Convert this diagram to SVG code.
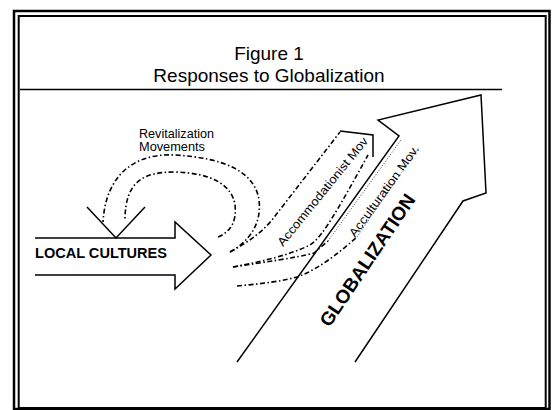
<svg xmlns="http://www.w3.org/2000/svg" width="553" height="410" viewBox="0 0 553 410">
<style>
.t{font-family:"Liberation Sans",Arial,sans-serif;fill:#000}
.b{font-weight:bold}
.ln{fill:none;stroke:#000;stroke-width:1.5;stroke-linejoin:miter}
.dd{fill:none;stroke:#000;stroke-width:1.6;stroke-dasharray:5 2.5 1.5 2.5}
.fd{fill:none;stroke:#000;stroke-width:0.8;stroke-dasharray:1 1.8}
</style>
<rect width="553" height="410" fill="#fff"/>
<g id="frame">
<rect x="14" y="11" width="535.5" height="398" fill="none" stroke="#000" stroke-width="2.5"/>
<rect x="18.7" y="16" width="527" height="392" fill="none" stroke="#000" stroke-width="2"/>
</g>
<g id="title">
<text class="t" x="269" y="60" font-size="19" text-anchor="middle">Figure 1</text>
<text class="t" x="269" y="82" font-size="19" text-anchor="middle">Responses to Globalization</text>
<line x1="20" y1="89.5" x2="502" y2="89.5" stroke="#000" stroke-width="1.5"/>
</g>
<g id="globalization">
<path class="ln" d="M237,362 L399,136 L378,120 L481,95 L486,193 L463,201 L355,362"/>
<text class="t b" font-size="19" transform="translate(329.5,328) rotate(-56)">GLOBALIZATION</text>
</g>
<g id="local-cultures">
<path class="ln" d="M35,238 H175 V222 L211,255 L175,289 V275 H35"/>
<text class="t b" x="35" y="258" font-size="14" textLength="132" lengthAdjust="spacingAndGlyphs">LOCAL CULTURES</text>
<path class="ln" d="M87,207 L116,238 L145,207"/>
</g>
<g id="revitalization-label">
<text class="t" x="139" y="138" font-size="12" textLength="75" lengthAdjust="spacingAndGlyphs">Revitalization</text>
<text class="t" x="139" y="151" font-size="12" textLength="66" lengthAdjust="spacingAndGlyphs">Movements</text>
</g>
<g id="accommodationist">
<text class="t" font-size="12" transform="translate(283,247) rotate(-51)" textLength="136" lengthAdjust="spacingAndGlyphs">Accommodationist Mov</text>
<path class="ln" d="M340,131 L373,135 L373,157"/>
</g>
<g id="acculturation">
<text class="t" font-size="12" transform="translate(355,238) rotate(-54)" textLength="110" lengthAdjust="spacingAndGlyphs">Acculturation Mov.</text>
</g>
<g id="connectors">
<path class="dd" d="M230,252 C248,242 262,225 259,200 C255,172 225,158 175,155 C140,153 106,170 103,222"/>
<path class="dd" d="M218,237 C230,232 237,222 235,205 C232,185 212,173 175,172 C145,172 125,180 125,220"/>
<path class="dd" d="M230,252 C248,242 260,234 272,220 L340,132"/>
<path class="dd" d="M233,267 C260,262 290,255 310,245 C320,238 328,228 368,155"/>
<path class="dd" d="M233,267 C265,262 295,258 314,253 L328,241"/>
<path class="fd" d="M328,241 L401,140"/>
<path class="dd" d="M237,286 C260,284 285,281 300,276 C320,268 340,252 357,237"/>
<path class="fd" d="M357,237 L419,147"/>
</g>
</svg>
